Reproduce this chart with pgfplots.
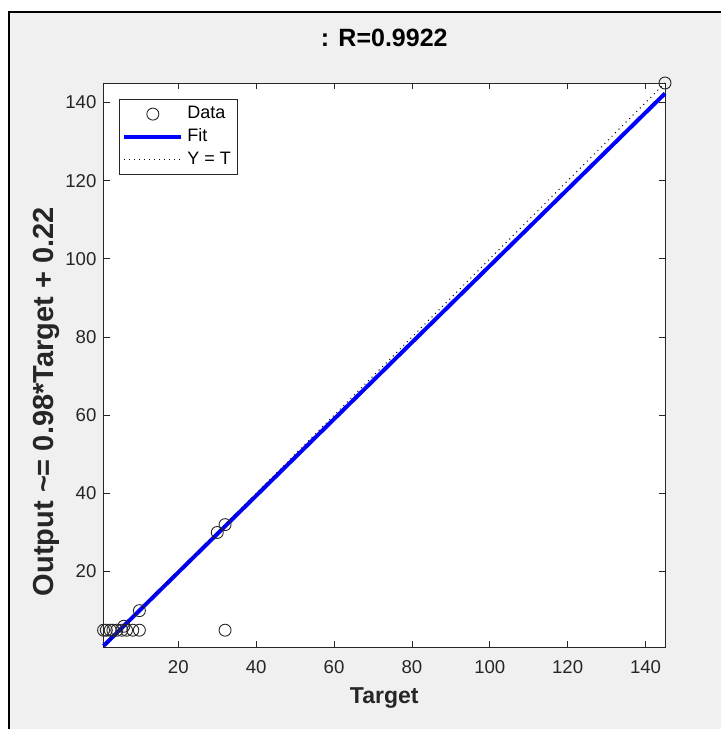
\documentclass[border=0pt]{standalone}
\usepackage{fontspec}
\setmainfont{Liberation Sans}
\usepackage{pgfplots}
\pgfplotsset{compat=1.18}
\definecolor{figgray}{HTML}{F0F0F0}
\definecolor{axgray}{HTML}{262626}
\begin{document}
\begin{tikzpicture}
% 1 px of the reference = 0.5pt
\path[use as bounding box] (0,0) rectangle (360.5pt,364.5pt);
\fill[white] (0,0) rectangle (360.5pt,364.5pt);
\fill[figgray] (4.5pt,0) rectangle (360.5pt,358.5pt);
\draw[black, line width=1pt] (4.5pt,0) -- (4.5pt,358.5pt) -- (360.5pt,358.5pt);
\begin{axis}[
  at={(51.75pt,41pt)}, anchor=south west,
  scale only axis, width=280.75pt, height=282pt,
  xmin=0.78, xmax=145, ymin=0.7, ymax=145,
  xtick={20,40,...,140}, ytick={20,40,...,140},
  tick align=inside, major tick length=3pt,
  axis line style={axgray, line width=0.4pt},
  every tick/.style={axgray, line width=0.4pt},
  axis background/.style={fill=white},
  clip=false,
  /pgf/number format/assume math mode=true,
  tick label style={font=\fontsize{9.3}{11}\selectfont, text=axgray},
  xticklabel style={yshift=-3pt},
  title={: R=0.9922},
  title style={at={(axis description cs:0.5,1.043)}, anchor=base, font=\bfseries\fontsize{12.5}{14}\selectfont, text=black},
  xlabel={Target},
  xlabel style={at={(axis description cs:0.5,-0.101)}, anchor=base, font=\bfseries\fontsize{11.5}{13}\selectfont, text=axgray},
  ylabel={Output \textasciitilde= 0.98*Target + 0.22},
  ylabel style={at={(axis description cs:-0.1025,0.435)}, anchor=center, font=\bfseries\fontsize{14.5}{16}\selectfont, text=axgray},
  legend style={at={(axis description cs:0,1)}, anchor=north west, xshift=7.75pt, yshift=-8pt,
    draw=axgray, line width=0.4pt, fill=white, font=\fontsize{9}{10}\selectfont,
    row sep=-0.5pt, inner sep=1.5pt},
  legend cell align=left,
  legend image code/.code={\draw[mark repeat=2,mark phase=2] plot coordinates {(0cm,0cm) (0.5cm,0cm) (1cm,0cm)};},
]
\addplot[only marks, mark=o, mark size=3pt, draw=black!85, line width=0.45pt] coordinates {
  (0.8,5) (1.5,5) (2.5,5) (3.2,5) (4.2,5) (5.5,5) (6.7,5) (8.3,5) (10,5)
  (32,5) (6,6) (10,10) (30,30) (32,32) (145,145)
};
\addlegendentry{Data}
\addplot[blue, line width=2pt, mark=none] coordinates {(0.78,0.98) (145,142.32)};
\addlegendentry{Fit}
\addplot[black, dotted, line width=0.5pt, mark=none] coordinates {(0.78,0.78) (145,145)};
\addlegendentry{Y = T}
\end{axis}
\end{tikzpicture}
\end{document}
